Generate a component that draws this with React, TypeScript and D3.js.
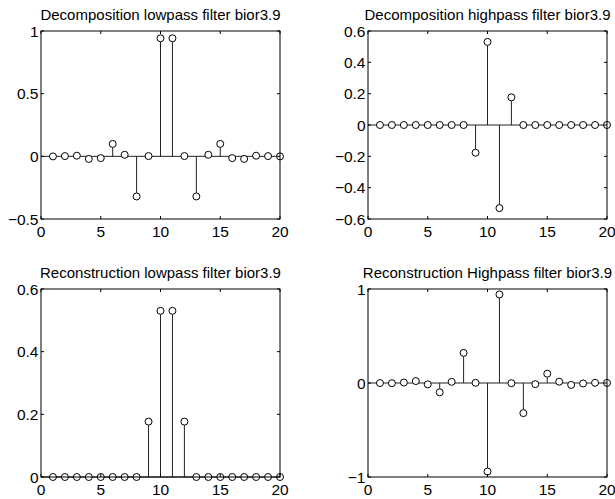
import React from "react";
import * as d3 from "d3";

const sampleIndex = [1, 2, 3, 4, 5, 6, 7, 8, 9, 10, 11, 12, 13, 14, 15, 16, 17, 18, 19, 20];

const decLo = [-0.0007, 0.0020, 0.0051, -0.0206, -0.0141, 0.0991, 0.0123, -0.3202, 0.0021, 0.9421,
  0.9421, 0.0021, -0.3202, 0.0123, 0.0991, -0.0141, -0.0206, 0.0051, 0.0020, -0.0007];
const decHi = [0, 0, 0, 0, 0, 0, 0, 0, -0.1768, 0.5303, -0.5303, 0.1768, 0, 0, 0, 0, 0, 0, 0, 0];
const recLo = [0, 0, 0, 0, 0, 0, 0, 0, 0.1768, 0.5303, 0.5303, 0.1768, 0, 0, 0, 0, 0, 0, 0, 0];
const recHi = [-0.0007, -0.0020, 0.0051, 0.0206, -0.0141, -0.0991, 0.0123, 0.3202, 0.0021, -0.9421,
  0.9421, -0.0021, -0.3202, -0.0123, 0.0991, 0.0141, -0.0206, -0.0051, 0.0020, 0.0007];

const titles = [
  "Decomposition lowpass filter bior3.9",
  "Decomposition highpass filter bior3.9",
  "Reconstruction lowpass filter bior3.9",
  "Reconstruction Highpass filter bior3.9",
];
const xTicks = [0, 5, 10, 15, 20];
const yTicksDecLo = [-0.5, 0, 0.5, 1];
const yTicksDecHi = [-0.6, -0.4, -0.2, 0, 0.2, 0.4, 0.6];
const yTicksRecLo = [0, 0.2, 0.4, 0.6];
const yTicksRecHi = [-1, 0, 1];

const FONT = "'Liberation Sans', Arial, Helvetica, sans-serif";

function fmt(v: number) {
  const s = String(Math.round(v * 10) / 10);
  return s.replace("-", "\u2212");
}

type PanelProps = {
  left: number; right: number; top: number; bottom: number;
  title: string; values: number[]; yTicks: number[];
};

function Panel({ left, right, top, bottom, title, values, yTicks }: PanelProps) {
  const x = d3.scaleLinear().domain([0, 20]).range([left, right]);
  const y = d3.scaleLinear().domain([yTicks[0], yTicks[yTicks.length - 1]]).range([bottom, top]);
  const tl = 3;
  const r = 3.5;
  return (
    <g>
      <text x={(left + right) / 2} y={top - 11} textAnchor="middle" fontSize={15} fontFamily={FONT} fill="#000">{title}</text>
      <line x1={left} x2={right} y1={y(0)} y2={y(0)} stroke="#222" strokeWidth={1} />
      {values.map((v, i) => {
        const cx = x(sampleIndex[i]);
        const cy = y(v);
        const dir = cy < y(0) ? 1 : -1;
        const endY = Math.abs(cy - y(0)) > r ? cy + dir * r : y(0);
        return <line key={"s" + i} x1={cx} x2={cx} y1={y(0)} y2={endY} stroke="#222" strokeWidth={1} />;
      })}
      {values.map((v, i) => (
        <circle key={"c" + i} cx={x(sampleIndex[i])} cy={y(v)} r={r} fill="#fff" stroke="#000" strokeWidth={1} />
      ))}
      <rect x={left} y={top} width={right - left} height={bottom - top} fill="none" stroke="#000" strokeWidth={1} />
      {xTicks.map((t) => (
        <g key={"xt" + t}>
          <line x1={x(t)} x2={x(t)} y1={bottom} y2={bottom - tl} stroke="#000" />
          <line x1={x(t)} x2={x(t)} y1={top} y2={top + tl} stroke="#000" />
          <text x={x(t)} y={bottom + 18} textAnchor="middle" fontSize={15.5} fontFamily={FONT} fill="#000">{fmt(t)}</text>
        </g>
      ))}
      {yTicks.map((t) => (
        <g key={"yt" + t}>
          <line x1={left} x2={left + tl} y1={y(t)} y2={y(t)} stroke="#000" />
          <line x1={right} x2={right - tl} y1={y(t)} y2={y(t)} stroke="#000" />
          <text x={left - 2.5} y={y(t) + 5.5} textAnchor="end" fontSize={15.5} fontFamily={FONT} fill="#000">{fmt(t)}</text>
        </g>
      ))}
    </g>
  );
}

export default function App() {
  return (
    <svg width={615} height={499} style={{ position: "absolute", left: 0, top: 0, background: "#fff" }}>
      <rect x={0} y={0} width={615} height={499} fill="#fff" />
      <Panel left={41} right={280} top={31} bottom={219} title={titles[0]} values={decLo} yTicks={yTicksDecLo} />
      <Panel left={368} right={607} top={31} bottom={219} title={titles[1]} values={decHi} yTicks={yTicksDecHi} />
      <Panel left={41} right={280} top={289} bottom={477} title={titles[2]} values={recLo} yTicks={yTicksRecLo} />
      <Panel left={368} right={607} top={289} bottom={477} title={titles[3]} values={recHi} yTicks={yTicksRecHi} />
    </svg>
  );
}
